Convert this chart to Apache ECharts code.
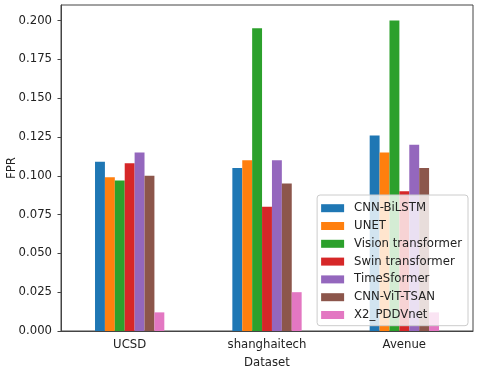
<!DOCTYPE html>
<html>
<head>
<meta charset="utf-8">
<title>FPR</title>
<style>
  html, body { margin: 0; padding: 0; background: #fff; }
  #main { width: 480px; height: 371px; }
</style>
</head>
<body>
<div id="main"></div>
<script src="https://cdn.jsdelivr.net/npm/echarts@6/dist/echarts.min.js"></script>
<script>
// datasets on the x axis
var datasets = ['UCSD', 'shanghaitech', 'Avenue'];
var models = ['CNN-BiLSTM', 'UNET', 'Vision transformer', 'Swin transformer',
              'TimeSformer', 'CNN-ViT-TSAN', 'X2_PDDVnet'];

// FPR per model, one value per dataset
var cnnBilstm   = [0.109, 0.105, 0.126];
var unet        = [0.099, 0.110, 0.115];
var vit         = [0.097, 0.195, 0.200];
var swin        = [0.108, 0.080, 0.090];
var timesformer = [0.115, 0.110, 0.120];
var cnnVitTsan  = [0.100, 0.095, 0.105];
var x2Pddvnet   = [0.012, 0.025, 0.012];

var yTicks = [0, 0.025, 0.05, 0.075, 0.1, 0.125, 0.15, 0.175, 0.2];

// matplotlib tab10
var colors = ['#1f77b4', '#ff7f0e', '#2ca02c', '#d62728', '#9467bd', '#8c564b', '#e377c2'];
var values = [cnnBilstm, unet, vit, swin, timesformer, cnnVitTsan, x2Pddvnet];

var font = 'DejaVu Sans';
var fs = 11.7;
var chart = echarts.init(document.getElementById('main'));

var series = models.map(function (m, i) {
    return {
        name: m,
        type: 'bar',
        data: values[i],
        barWidth: 9.9,
        barGap: '0%',
        itemStyle: { color: colors[i] }
    };
});

chart.setOption({
    backgroundColor: '#fff',
    animation: false,
    color: colors,
    textStyle: { fontFamily: font },
    grid: {
        left: 61, right: 7, top: 5, bottom: 40,
        outerBoundsMode: 'none',
        containLabel: false,
        show: true, borderColor: '#444', borderWidth: 1
    },
    legend: {
        orient: 'vertical',
        right: 12,
        top: 195,
        data: models,
        icon: 'rect',
        itemWidth: 23,
        itemHeight: 8,
        itemGap: 4.4,
        padding: [6.5, 6, 4, 4],
        backgroundColor: 'rgba(255,255,255,0.8)',
        borderColor: '#ccc',
        borderWidth: 1,
        borderRadius: 3,
        textStyle: { fontFamily: font, fontSize: fs, color: '#222', lineHeight: 13.4, padding: [0, 0, 0, 5] }
    },
    xAxis: {
        type: 'category',
        data: datasets,
        name: 'Dataset',
        nameLocation: 'middle',
        nameGap: 26,
        nameMoveOverlap: false,
        nameTextStyle: { fontFamily: font, fontSize: fs, color: '#222' },
        axisLine: { lineStyle: { color: '#444' } },
        axisTick: { alignWithLabel: true, length: 3.5, lineStyle: { color: '#444' } },
        axisLabel: { fontFamily: font, fontSize: fs, color: '#222', margin: 8 },
        splitLine: { show: false }
    },
    yAxis: {
        type: 'value',
        min: 0,
        max: 0.21,
        name: 'FPR',
        nameLocation: 'middle',
        nameGap: 43,
        nameMoveOverlap: false,
        nameTextStyle: { fontFamily: font, fontSize: fs, color: '#222' },
        axisLine: { show: true, lineStyle: { color: '#444' } },
        axisTick: { show: true, length: 3.5, customValues: yTicks, lineStyle: { color: '#444' } },
        axisLabel: {
            fontFamily: font, fontSize: fs, color: '#222', margin: 9,
            customValues: yTicks,
            formatter: function (v) { return v.toFixed(3); }
        },
        splitLine: { show: false }
    },
    series: series
});
</script>
</body>
</html>
